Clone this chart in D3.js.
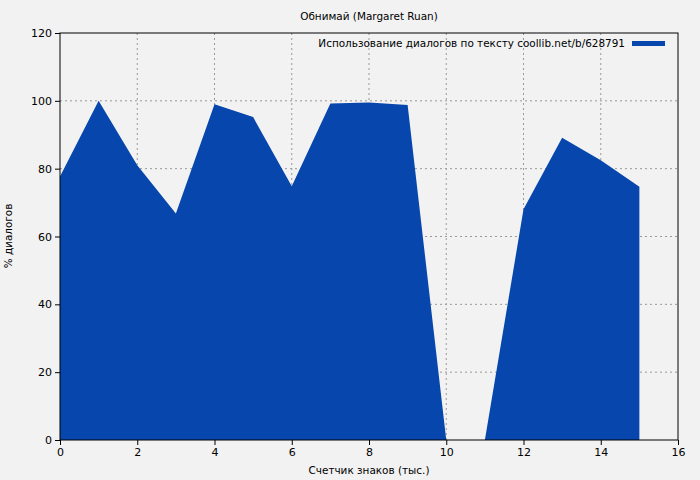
<!DOCTYPE html>
<html><head><meta charset="utf-8">
<script src="https://cdn.jsdelivr.net/npm/d3@7"></script>
<style>body{margin:0;background:#f2f2f2;}svg{display:block;font-family:"DejaVu Sans",sans-serif;}</style>
</head><body><svg id="c" width="700" height="480"></svg>
<script>
const xs = [0,1,2,3,4,5,6,7,8,9,10,11,12,13,14,15];
const ys = [77.7,100,81,66.8,99,95.2,74.8,99.2,99.5,98.8,0,0,68,89.1,82.5,74.7];
const xTicks = [0,2,4,6,8,10,12,14,16];
const yTicks = [0,20,40,60,80,100,120];
const title = "Обнимай (Margaret Ruan)";
const xLabel = "Счетчик знаков (тыс.)";
const yLabel = "% диалогов";
const legendLabel = "Использование диалогов по тексту coollib.net/b/628791";

const svg = d3.select("#c");
const m = {l:60, r:22, t:33, b:40};
const W = 700, H = 480;
const x = d3.scaleLinear().domain([0,16]).range([m.l, W-m.r]);
const y = d3.scaleLinear().domain([0,120]).range([H-m.b, m.t]);
svg.append("rect").attr("width",W).attr("height",H).attr("fill","#f2f2f2");

// grid
const g = svg.append("g");
g.selectAll(".gx").data(xTicks.slice(1,-1)).join("line")
 .attr("x1",d=>x(d)).attr("x2",d=>x(d)).attr("y1",y(0)).attr("y2",y(120))
 .attr("stroke","#999").attr("stroke-dasharray","2,3");
g.selectAll(".gy").data(yTicks.slice(1,-1)).join("line")
 .attr("y1",d=>y(d)).attr("y2",d=>y(d)).attr("x1",x(0)).attr("x2",x(16))
 .attr("stroke","#999").attr("stroke-dasharray","2,3");

// area
const data = xs.map((v,i)=>[v,ys[i]]);
const area = d3.area().x(d=>x(d[0])).y0(y(0)).y1(d=>y(d[1]));
svg.append("path").datum(data).attr("d",area).attr("fill","#0646ad");

// frame
svg.append("rect").attr("x",x(0)).attr("y",y(120)).attr("width",x(16)-x(0)).attr("height",y(0)-y(120))
 .attr("fill","none").attr("stroke","#000").attr("stroke-width",1);

// axes
const ax = svg.append("g").attr("transform",`translate(0,${y(0)})`)
 .call(d3.axisBottom(x).tickValues(xTicks).tickSize(5).tickPadding(3));
const ay = svg.append("g").attr("transform",`translate(${x(0)},0)`)
 .call(d3.axisLeft(y).tickValues(yTicks).tickSize(5).tickPadding(3));
[ax,ay].forEach(a=>{a.select(".domain").remove();a.selectAll("text").attr("font-size",11).attr("font-family","DejaVu Sans").attr("fill","#000");a.selectAll("line").attr("stroke","#000");});

const fs = 10.45;
svg.append("text").attr("x",369).attr("y",20).attr("text-anchor","middle").attr("font-size",fs).text(title);
svg.append("text").attr("x",369).attr("y",474).attr("text-anchor","middle").attr("font-size",fs).text(xLabel);
svg.append("text").attr("transform","translate(12,236) rotate(-90)").attr("text-anchor","middle").attr("font-size",fs).text(yLabel);
svg.append("text").attr("x",625).attr("y",47).attr("text-anchor","end").attr("font-size",fs).text(legendLabel);
svg.append("rect").attr("x",632).attr("y",41).attr("width",33).attr("height",5).attr("fill","#0646ad");
</script></body></html>
